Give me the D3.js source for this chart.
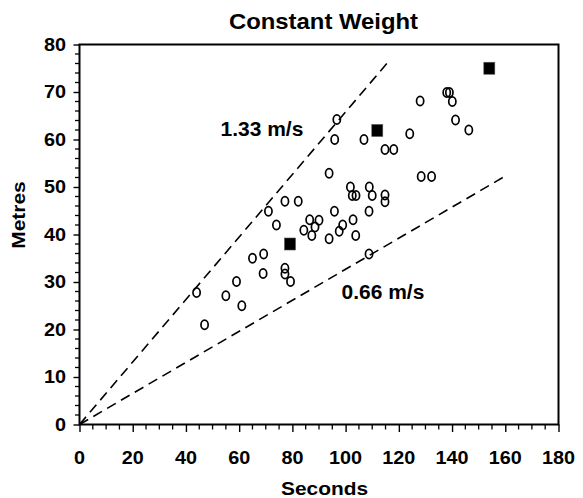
<!DOCTYPE html>
<html><head><meta charset="utf-8">
<script src="https://cdn.jsdelivr.net/npm/d3@7"></script>
<style>body{margin:0;background:#fff}svg text{font-family:"Liberation Sans",Arial,sans-serif;font-weight:bold;fill:#000}</style>
</head><body>
<svg id="c" width="583" height="498"></svg>
<script>
// ---- data ----
const openX = [44,47,55,59,61,65,69.2,69,71,74,77.2,77.2,77.2,79.3,82.2,84.3,86.5,88.5,87.3,90,93.8,93.8,95.8,95.9,96.7,97.6,98.9,101.8,102.8,102.5,103.9,103.8,106.9,108.9,108.8,108.8,110,114.8,114.8,114.8,118.1,124.1,128,128.4,132.3,138,139,140.1,141.3,146.3];
const openY = [27.8,21,27.1,30.1,25,35,35.9,31.8,44.9,42,47,32.9,31.7,30.1,47,40.9,43.1,41.6,39.8,43,52.9,39.1,44.9,60,64.2,40.7,42,50,43.1,48.2,48.2,39.8,60,50,44.9,35.9,48.2,57.9,48.3,46.9,57.9,61.2,68.1,52.2,52.2,69.9,69.9,68,64.1,62];
const closedX = [79.1,111.9,154];
const closedY = [38,61.9,75];
const xTickValues = [0,20,40,60,80,100,120,140,160,180];
const yTickValues = [0,10,20,30,40,50,60,70,80];
const speedLabels = ["1.33 m/s","0.66 m/s"];
const lineEndX = [115.5,160];
const lineEndY = [76,52.3];
const titleText = "Constant Weight";
const xTitle = "Seconds";
const yTitle = "Metres";

// ---- layout ----
const L=79.5, R=558.5, T=44.5, B=424.5;
const svg=d3.select("#c");
const x=d3.scaleLinear().domain([0,180]).range([L,R]);
const y=d3.scaleLinear().domain([0,80]).range([B,T]);

function txt(tx,ty,s,size,sx,anchor,rot){
  return svg.append("text").text(s).attr("font-size",size).attr("text-anchor",anchor||"start")
    .attr("transform",`translate(${tx},${ty})`+(rot?` rotate(${rot})`:"")+` scale(${sx},1)`);
}

// minor ticks
const xMinor=d3.range(0,181,5).filter(v=>v%20!==0);
const yMinor=d3.range(0,81,2).filter(v=>v%10!==0);
const tickG=svg.append("g").attr("stroke","#000").attr("stroke-width",1.3);
xMinor.forEach(v=>tickG.append("line").attr("x1",x(v)).attr("x2",x(v)).attr("y1",B).attr("y2",B+5));
yMinor.forEach(v=>tickG.append("line").attr("y1",y(v)).attr("y2",y(v)).attr("x1",L).attr("x2",L-4.5));

// axes
const xAxis=d3.axisBottom(x).tickValues(xTickValues).tickSize(7.5).tickFormat(d3.format("d"));
const yAxis=d3.axisLeft(y).tickValues(yTickValues).tickSize(6).tickFormat(d3.format("d"));
const gx=svg.append("g").attr("transform",`translate(0,${B})`).call(xAxis);
const gy=svg.append("g").attr("transform",`translate(${L},0)`).call(yAxis);
[gx,gy].forEach(g=>{g.select(".domain").remove();g.selectAll(".tick line").attr("stroke","#000").attr("stroke-width",1.4);g.selectAll(".tick text").remove();});
xTickValues.forEach(v=>txt(x(v),463.5,String(v),18,1.1,"middle"));
yTickValues.forEach(v=>txt(L-13.5,y(v)+6.4,String(v),18,1.1,"end"));

// frame
svg.append("rect").attr("x",L).attr("y",T).attr("width",R-L).attr("height",B-T)
  .attr("fill","none").attr("stroke","#000").attr("stroke-width",2);

// guide lines
lineEndX.forEach((ex,i)=>{
  svg.append("path").attr("d",d3.line().x(d=>x(d[0])).y(d=>y(d[1]))([[0,0],[ex,lineEndY[i]]]))
    .attr("fill","none").attr("stroke","#000").attr("stroke-width",1.6).attr("stroke-dasharray","10,6");
});

// open circles
openX.forEach((vx,i)=>{
  svg.append("ellipse").attr("cx",x(vx)).attr("cy",y(openY[i])).attr("rx",3.6).attr("ry",4.6)
    .attr("fill","none").attr("stroke","#000").attr("stroke-width",1.7);
});
// filled squares
closedX.forEach((vx,i)=>{
  svg.append("rect").attr("x",x(vx)-5.5).attr("y",y(closedY[i])-6).attr("width",11).attr("height",12)
    .attr("fill","#000").attr("stroke","#555").attr("stroke-width",0.6);
});

// labels
txt(220.5,135.5,speedLabels[0],20,1.05,"start");
txt(341.5,299,speedLabels[1],20,1.05,"start");
txt(323.5,29,titleText,21.3,1.12,"middle");
txt(324.5,495,xTitle,19,1.1,"middle");
txt(25,215,yTitle,19,1.1,"middle",-90);
</script>
</body></html>
